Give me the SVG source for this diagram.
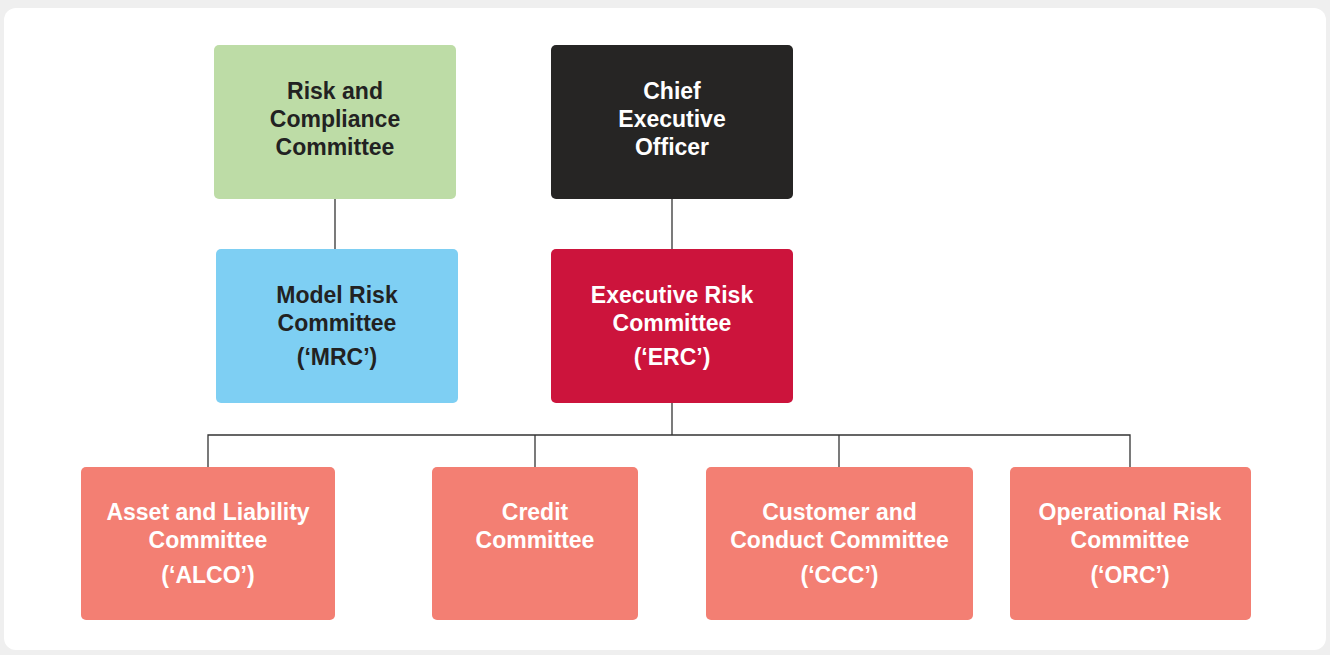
<svg xmlns="http://www.w3.org/2000/svg" width="1330" height="655" viewBox="0 0 1330 655">
<style>
.t{font-family:"Liberation Sans",Arial,sans-serif;font-weight:bold;font-size:23px;text-anchor:middle}
.dk{fill:#222222}
.wh{fill:#ffffff}
.box{stroke:none}
.c{stroke:#333333;stroke-width:1.3;fill:none}
</style>
<rect x="0" y="0" width="1330" height="655" fill="#efefef"/>
<rect x="4" y="8" width="1322" height="642" rx="12" fill="#ffffff"/>
<g id="connectors">
<path class="c" d="M335 199V249"/>
<path class="c" d="M672 199V249"/>
<path class="c" d="M672 403V435"/>
<path class="c" d="M208 467V435H1130V467"/>
<path class="c" d="M535 435V467"/>
<path class="c" d="M839 435V467"/>
</g>
<g id="rcc">
<rect class="box" x="214" y="45" width="242" height="154" rx="5" fill="#bddca6"/>
<text class="t dk" x="335" y="99">Risk and</text>
<text class="t dk" x="335" y="127">Compliance</text>
<text class="t dk" x="335" y="155">Committee</text>
</g>
<g id="ceo">
<rect class="box" x="551" y="45" width="242" height="154" rx="5" fill="#262524"/>
<text class="t wh" x="672" y="99">Chief</text>
<text class="t wh" x="672" y="127">Executive</text>
<text class="t wh" x="672" y="155">Officer</text>
</g>
<g id="mrc">
<rect class="box" x="216" y="249" width="242" height="154" rx="5" fill="#7ecff3"/>
<text class="t dk" x="337" y="303">Model Risk</text>
<text class="t dk" x="337" y="331">Committee</text>
<text class="t dk" x="337" y="365">(‘MRC’)</text>
</g>
<g id="erc">
<rect class="box" x="551" y="249" width="242" height="154" rx="5" fill="#cc143c"/>
<text class="t wh" x="672" y="303">Executive Risk</text>
<text class="t wh" x="672" y="331">Committee</text>
<text class="t wh" x="672" y="365">(‘ERC’)</text>
</g>
<g id="alco">
<rect class="box" x="81" y="467" width="254" height="153" rx="5" fill="#f37f73"/>
<text class="t wh" x="208" y="520">Asset and Liability</text>
<text class="t wh" x="208" y="548">Committee</text>
<text class="t wh" x="208" y="583">(‘ALCO’)</text>
</g>
<g id="credit">
<rect class="box" x="432" y="467" width="206" height="153" rx="5" fill="#f37f73"/>
<text class="t wh" x="535" y="520">Credit</text>
<text class="t wh" x="535" y="548">Committee</text>
</g>
<g id="ccc">
<rect class="box" x="706" y="467" width="267" height="153" rx="5" fill="#f37f73"/>
<text class="t wh" x="839.5" y="520">Customer and</text>
<text class="t wh" x="839.5" y="548">Conduct Committee</text>
<text class="t wh" x="839.5" y="583">(‘CCC’)</text>
</g>
<g id="orc">
<rect class="box" x="1010" y="467" width="241" height="153" rx="5" fill="#f37f73"/>
<text class="t wh" x="1130" y="520">Operational Risk</text>
<text class="t wh" x="1130" y="548">Committee</text>
<text class="t wh" x="1130" y="583">(‘ORC’)</text>
</g>
</svg>
